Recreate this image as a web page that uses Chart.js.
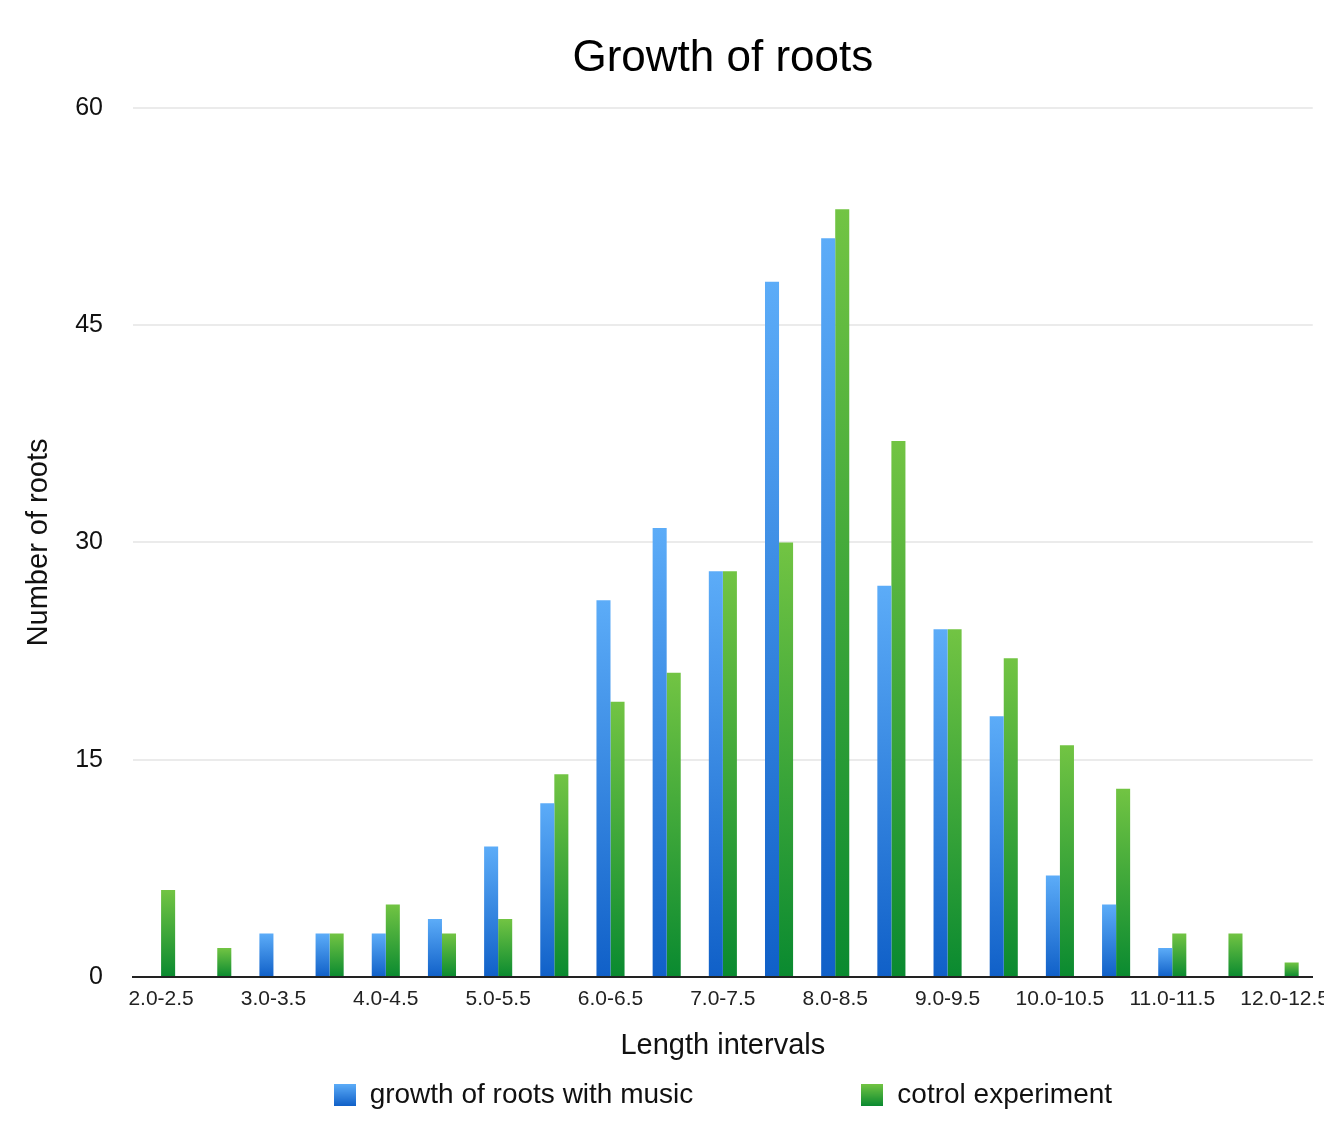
<!DOCTYPE html>
<html>
<head>
<meta charset="utf-8">
<script src="https://cdn.jsdelivr.net/npm/chart.js@4/dist/chart.umd.min.js"></script>
<style>
  html, body { margin: 0; padding: 0; background: #fff; overflow: hidden; }
  #wrap { width: 1339px; height: 1125px; position: relative; }
</style>
</head>
<body>
<div id="wrap"><canvas id="chartRoots"></canvas></div>
<script>
const intervals = ['2.0-2.5','2.5-3.0','3.0-3.5','3.5-4.0','4.0-4.5','4.5-5.0','5.0-5.5','5.5-6.0',
    '6.0-6.5','6.5-7.0','7.0-7.5','7.5-8.0','8.0-8.5','8.5-9.0','9.0-9.5','9.5-10.0',
    '10.0-10.5','10.5-11.0','11.0-11.5','11.5-12.0','12.0-12.5'];
const withMusic = [0, 0, 3, 3, 3, 4, 9, 12, 26, 31, 28, 48, 51, 27, 24, 18, 7, 5, 2, 0, 0];
const control   = [6, 2, 0, 3, 5, 3, 4, 14, 19, 21, 28, 30, 53, 37, 24, 22, 16, 13, 3, 3, 1];
const yTicks = [0, 15, 30, 45, 60];

const FONT = "'Liberation Sans', Arial, Helvetica, sans-serif";
const LEGEND_GAP = 168;

// vertical gradient per bar, light on top, dark at base
const barGrad = (top, bottom) => (ctx) => {
    const chart = ctx.chart;
    if(!chart.chartArea || ctx.type !== 'data') return bottom;
    const y = chart.scales.y;
    const yTop = y.getPixelForValue(ctx.raw);
    const yBase = y.getPixelForValue(0);
    if(!(yBase - yTop > 0)) return bottom;
    const g = chart.ctx.createLinearGradient(0, yTop, 0, yBase);
    g.addColorStop(0, top);
    g.addColorStop(1, bottom);
    return g;
};

const legendBox = (top, bottom) => {
    const c = document.createElement('canvas');
    c.width = 22; c.height = 22;
    const x = c.getContext('2d');
    const g = x.createLinearGradient(0, 0, 0, 22);
    g.addColorStop(0, top); g.addColorStop(1, bottom);
    x.fillStyle = g; x.fillRect(0, 0, 22, 22);
    return c;
};

const blueTop = '#5cacf8', blueBot = '#1060c8';
const greenTop = '#72c443', greenBot = '#0a8a30';

// centre title and legend over the plot area, put legend row at its place
const placeBoxes = {
    id: 'placeBoxes',
    afterLayout(chart) {
        const a = chart.chartArea;
        if(chart.titleBlock) { chart.titleBlock.left = a.left; chart.titleBlock.right = a.right; }
        if(chart.legend) {
            chart.legend.left = a.left; chart.legend.right = a.right;
            chart.legend.top = 1081 - LEGEND_GAP;
        }
    }
};

new Chart(document.getElementById('chartRoots'), {
    type: 'bar',
    data: {
        labels: intervals,
        datasets: [
            { label: 'growth of roots with music', data: withMusic, backgroundColor: barGrad(blueTop, blueBot),
              borderWidth: 0, categoryPercentage: 0.5, barPercentage: 1.0, pointStyle: legendBox(blueTop, blueBot) },
            { label: 'cotrol experiment', data: control, backgroundColor: barGrad(greenTop, greenBot),
              borderWidth: 0, categoryPercentage: 0.5, barPercentage: 1.0, pointStyle: legendBox(greenTop, greenBot) }
        ]
    },
    plugins: [placeBoxes],
    options: {
        responsive: true,
        maintainAspectRatio: false,
        animation: false,
        layout: { padding: { left: 0, right: 0, top: 0, bottom: 0 } },
        plugins: {
            title: {
                display: true, text: 'Growth of roots', color: '#000',
                font: { family: FONT, size: 44, weight: 'normal' },
                padding: { top: 32, bottom: 23 }
            },
            legend: {
                position: 'bottom',
                maxHeight: 60,
                labels: {
                    usePointStyle: true, boxWidth: 22, boxHeight: 22, color: '#111',
                    font: { family: FONT, size: 28 },
                    padding: LEGEND_GAP
                }
            },
            tooltip: { enabled: false }
        },
        scales: {
            x: {
                afterFit: (s) => { s.height = 88; },
                grid: { display: false, drawTicks: false },
                border: { display: true, color: '#222', width: 2 },
                ticks: {
                    autoSkip: false, maxRotation: 0, color: '#222', padding: 10,
                    font: { family: FONT, size: 21 },
                    callback: (v, i) => i % 2 === 0 ? intervals[i] : ''
                },
                title: { display: true, text: 'Length intervals', color: '#111',
                    font: { family: FONT, size: 29 }, padding: { top: 16, bottom: 2 } }
            },
            y: {
                min: 0, max: 60,
                afterBuildTicks: (s) => { s.ticks = yTicks.map(v => ({ value: v })); },
                afterFit: (s) => { s.width = 133; },
                grid: { color: '#ebebeb', lineWidth: 2, drawTicks: false },
                border: { display: false },
                ticks: { color: '#111', padding: 30, font: { family: FONT, size: 25 } },
                title: { display: true, text: 'Number of roots', color: '#111',
                    font: { family: FONT, size: 29 }, padding: { top: 22, bottom: 0 } }
            }
        }
    }
});
</script>
</body>
</html>
